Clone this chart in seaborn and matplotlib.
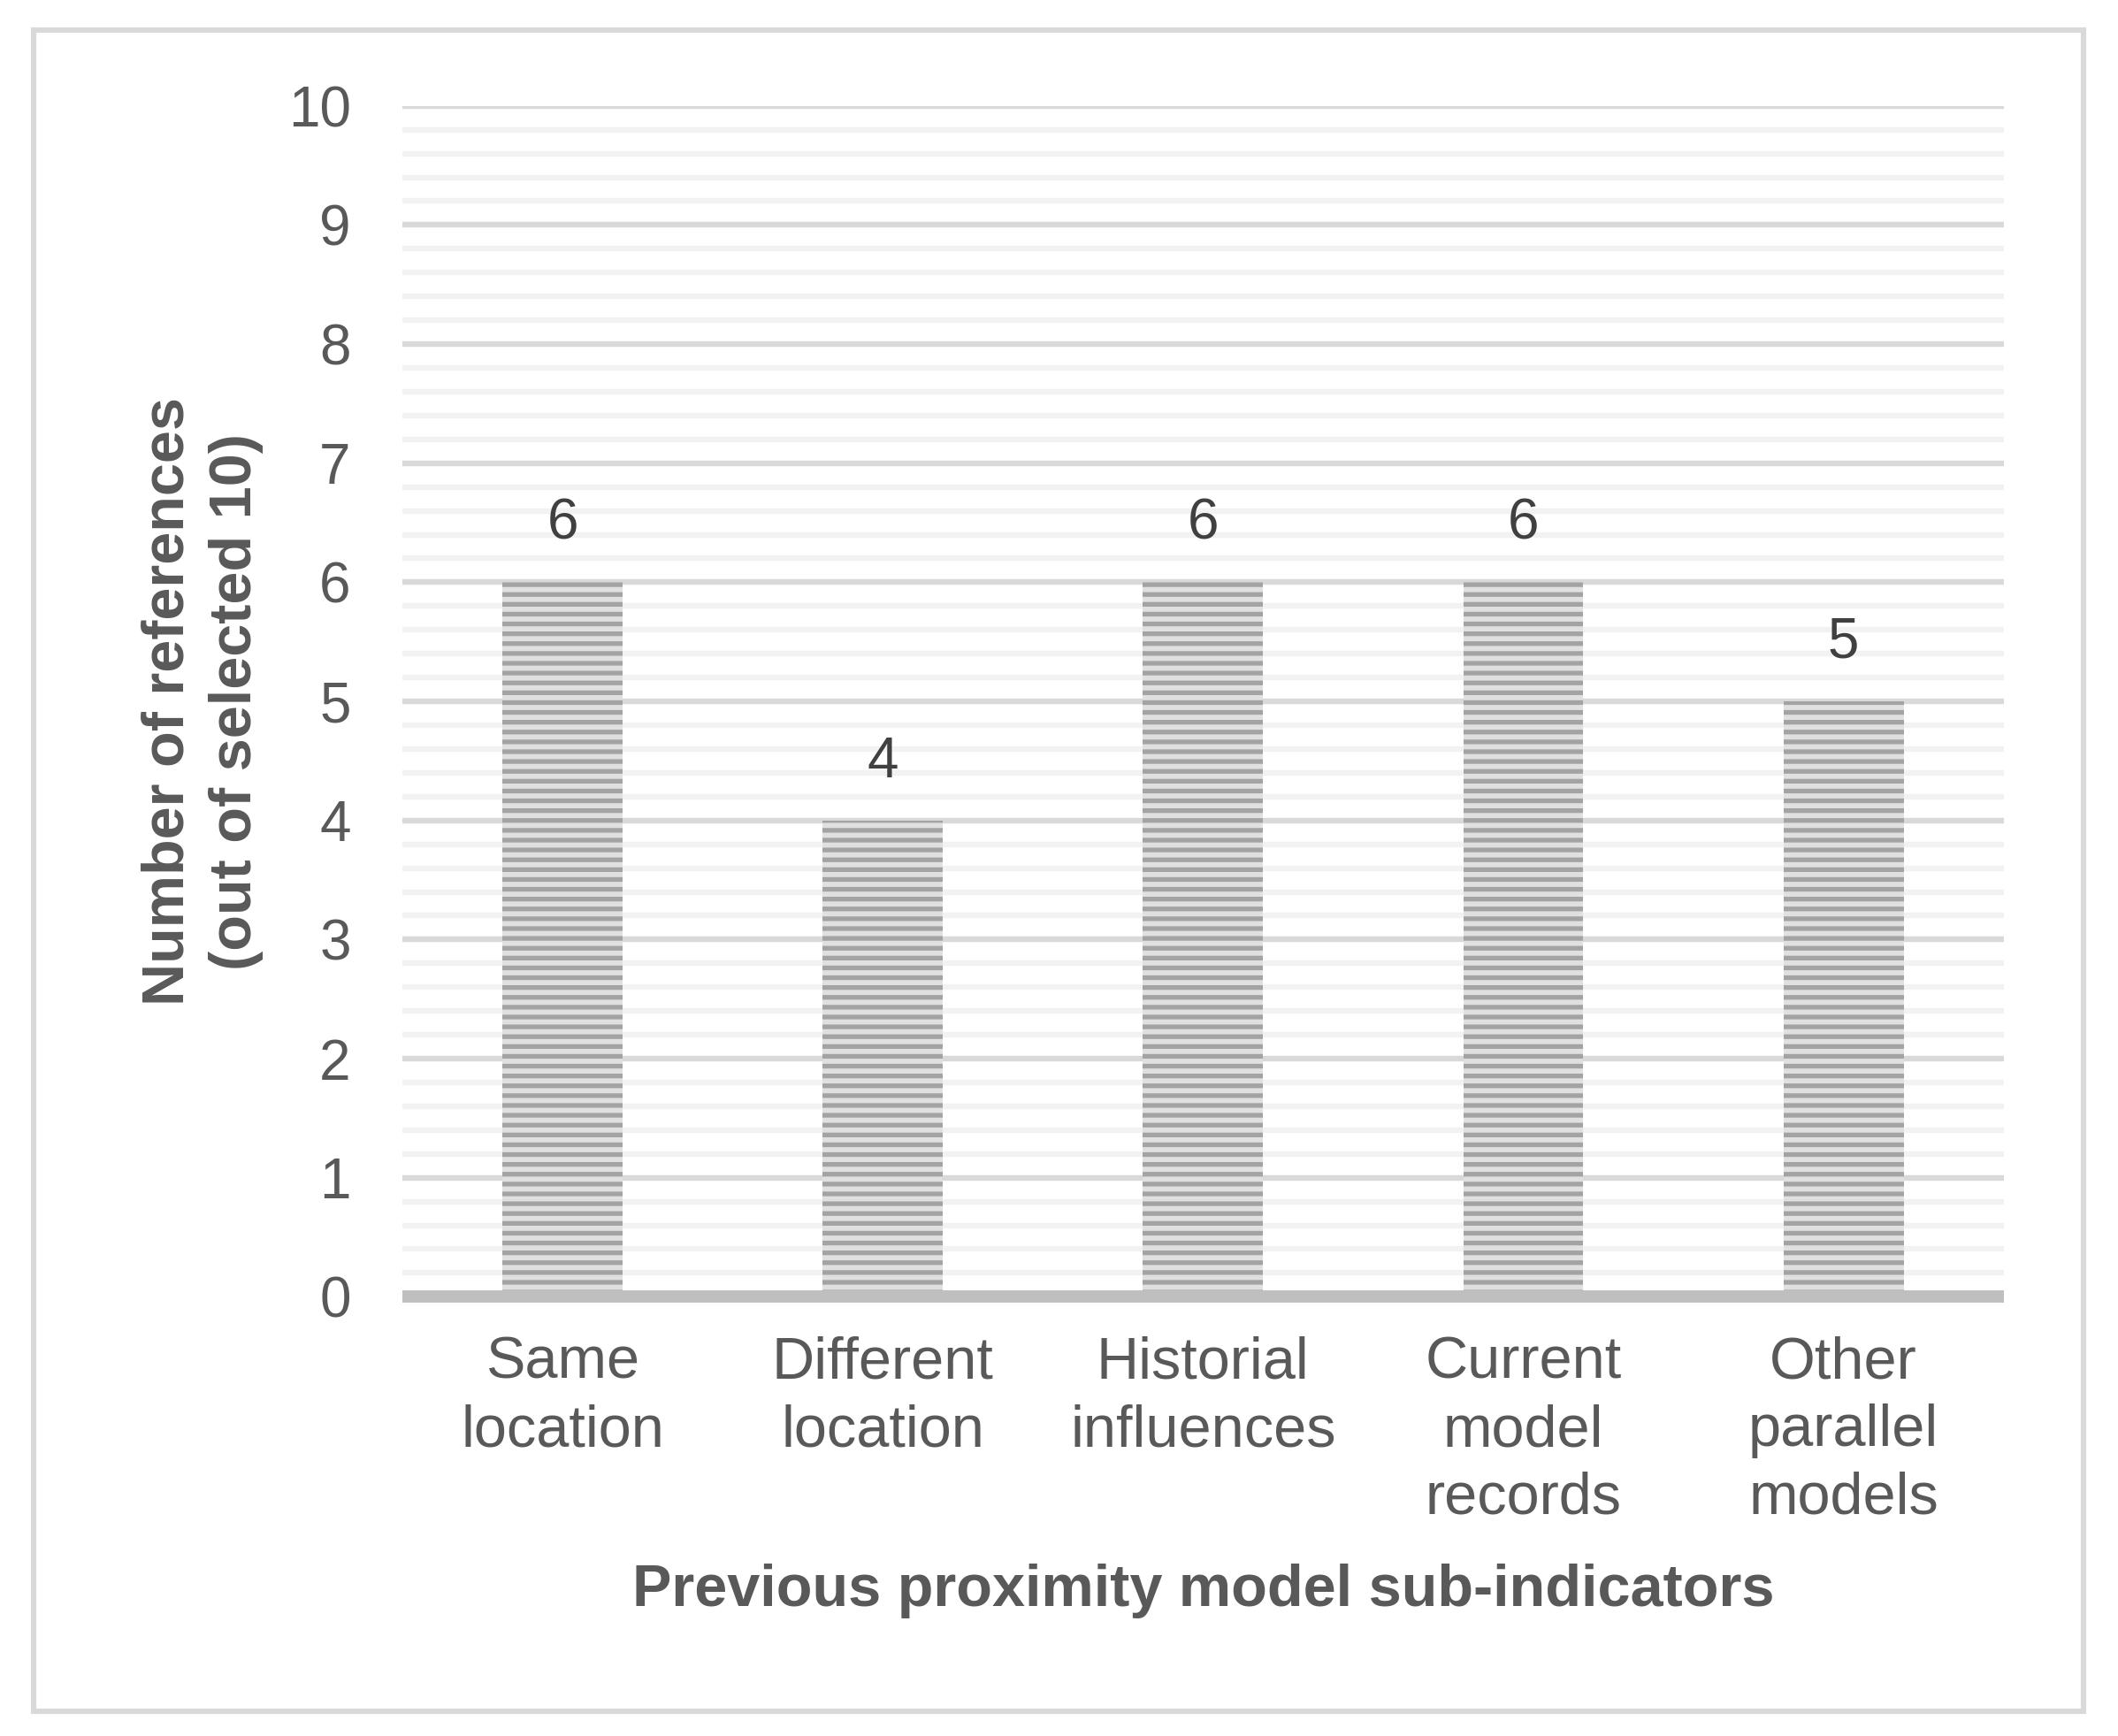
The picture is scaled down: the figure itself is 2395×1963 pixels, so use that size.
# -*- coding: utf-8 -*-
"""
previous proximity model sub-indicators - bar chart (Excel style, striped bars)
"""
import pandas as pd
import seaborn as sns
import matplotlib.pyplot as plt
from matplotlib.pyplot import MultipleLocator
from matplotlib.patches import Rectangle

# data =====================================================================
categories = ["Same\nlocation", "Different\nlocation", "Historial\ninfluences",
              "Current\nmodel\nrecords", "Other\nparallel\nmodels"]
counts = [6, 4, 6, 6, 5]
y_ticks = [0, 1, 2, 3, 4, 5, 6, 7, 8, 9, 10]
# ==========================================================================

df = pd.DataFrame({'indicator': categories, 'refs': counts})

sns.set_style('white')
plt.rcParams['font.family'] = ['Liberation Sans', 'DejaVu Sans']
plt.rcParams['hatch.linewidth'] = 1.9
plt.rcParams['hatch.color'] = '#a3a3a3'

fig = plt.figure(figsize=(11.975, 9.815), dpi=200)  # 2395 x 1963
ax = fig.add_axes([0.190, 0.253, 0.756, 0.686])

sns.barplot(data=df, x='indicator', y='refs', width=0.375, color='#e0e0e0',
            saturation=1, ax=ax, zorder=2)

# 横条纹填充
for p in ax.patches:
    p.set_hatch('---')
    p.set_edgecolor('#a3a3a3')
    p.set_linewidth(0)

ax.bar_label(ax.containers[0], padding=13, fontsize=23, color='#404040')

ax.set_ylim(0, 10)
ax.set_xlim(-0.5, 4.5)
ax.set_yticks(y_ticks)
ax.yaxis.set_minor_locator(MultipleLocator(0.2))
ax.set_axisbelow(True)
ax.yaxis.grid(True, which='major', color='#d9d9d9', linewidth=2.3)
ax.yaxis.grid(True, which='minor', color='#f2f2f2', linewidth=2.3)
ax.tick_params(axis='both', which='both', length=0, labelsize=23,
               labelcolor='#595959')
ax.tick_params(axis='y', pad=21)
ax.tick_params(axis='x', pad=16, labelsize=24)
for t in ax.get_xticklabels():
    t.set_linespacing(1.3)

for s in ['top', 'left', 'right']:
    ax.spines[s].set_visible(False)
ax.spines['bottom'].set_color('#bfbfbf')
ax.spines['bottom'].set_linewidth(5)
ax.spines['bottom'].set_capstyle('butt')
ax.spines['bottom'].set_zorder(3)

ax.set_ylabel("Number of references\n(out of selected 10)", fontsize=24,
              fontweight='bold', color='#595959', linespacing=1.3)
ax.yaxis.set_label_coords(-0.087, 0.5)
ax.set_xlabel("Previous proximity model sub-indicators", fontsize=24,
              fontweight='bold', color='#595959')
ax.xaxis.set_label_coords(0.5, -0.247)
ax.xaxis.label.set_va('center')

# 外边框
fig.patches.append(Rectangle((0.0159, 0.0143), 0.968, 0.9684, transform=fig.transFigure,
                             fill=False, edgecolor='#d9d9d9', linewidth=2.2))

plt.savefig('out.png', dpi=200)
